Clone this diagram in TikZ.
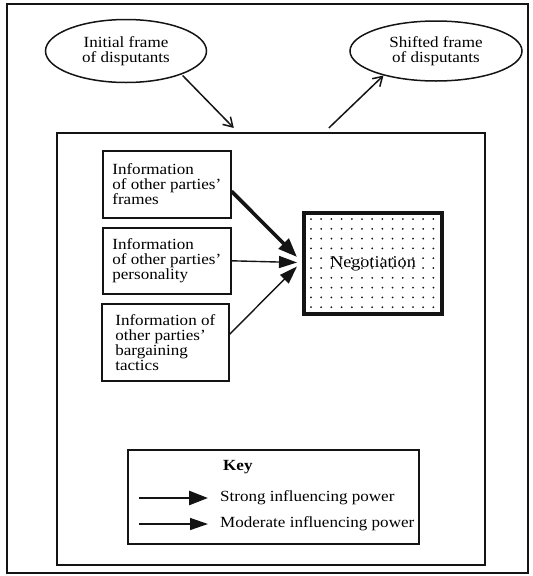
\documentclass[tikz,border=0pt]{standalone}
\usepackage{fontspec}
\setmainfont{Liberation Serif}[FakeStretch=1.1]
\usetikzlibrary{arrows.meta,positioning,shapes.geometric}
\definecolor{Ink}{HTML}{141414}
\tikzset{
  frameoval/.style={ellipse, draw=Ink, line width=1.5pt, inner sep=0pt,
    align=center, font=\fontsize{15.5}{15}\selectfont},
  infobox/.style={draw=Ink, line width=1.6pt, anchor=north west,
    minimum width=128pt, inner sep=0pt, align=left,
    font=\fontsize{15.5}{15}\selectfont},
  keytext/.style={anchor=west, inner sep=0pt, font=\fontsize{15.5}{15}\selectfont},
  strongarrow/.style={draw=Ink, line width=3.6pt, -{Triangle[length=19pt,width=14pt]}},
  moderatearrow/.style={draw=Ink, line width=1.4pt, -{Triangle[length=18pt,width=12pt]}},
  shiftarrow/.style={draw=Ink, line width=1.5pt, -{Straight Barb[length=9pt,width=11pt]}}
}

\begin{document}
\begin{tikzpicture}[x=1pt,y=-1pt]
  \useasboundingbox (0,0) rectangle (533,576);
  % page frame
  \draw[Ink, line width=1.3pt] (7,4) rectangle (528,573);

  % frames before and after
  \node[frameoval, minimum width=161pt, minimum height=63pt] (initframe) at (126,51)
    {Initial frame\\of disputants};
  \node[frameoval, minimum width=172pt, minimum height=60pt] (shiftframe) at (436,51)
    {Shifted frame\\of disputants};

  % negotiation arena
  \node[draw=Ink, line width=1.6pt, anchor=north west,
    minimum width=428pt, minimum height=432pt] (arena) at (56,132) {};

  \draw[shiftarrow] ([xshift=4pt]initframe.-25) -- ([shift={(-37pt,4pt)}]arena.north);
  \draw[shiftarrow] ([shift={(58pt,4pt)}]arena.north) -- (shiftframe.205);

  % information boxes
  \node[infobox, minimum height=67pt] (infoframes) at (102,150)
    {Information\\of other parties'\\frames};
  \node[infobox, minimum height=66pt] (infopersona) at (102,227)
    {Information\\of other parties'\\personality};
  \node[infobox, minimum width=127pt, minimum height=77pt] (infotactics) at (101,303)
    {Information of\\other parties'\\bargaining\\tactics};

  % negotiation box with dots
  \node[draw=Ink, line width=4pt, anchor=north west,
    minimum width=138pt, minimum height=101pt] (negotiation) at (302,211) {};
  \foreach \col in {0,...,12}
    \foreach \row in {0,...,9}
      \fill[Ink] (311+10.2*\col, 219+9.8*\row) circle (1pt);
  \node[font=\fontsize{16.5}{16}\selectfont] (negotiationlabel) at (negotiation.center) {Negotiation};

  \draw[strongarrow] ([yshift=-7pt]infoframes.east) -- ([shift={(-5pt,6.5pt)}]negotiation.west);
  \draw[moderatearrow] (infopersona.east) -- ([shift={(-5pt,1pt)}]negotiation.west);
  \draw[moderatearrow] ([yshift=8pt]infotactics.east) -- ([shift={(-5pt,-3pt)}]negotiation.west);

  % key
  \node[draw=Ink, line width=1.6pt, anchor=north west,
    minimum width=291pt, minimum height=94pt] (keybox) at (127,449) {};
  \node[keytext] (keytitle) at (223,467) {\textbf{Key}};
  \node[keytext] (stronglabel) at (220,498) {Strong influencing power};
  \node[keytext] (moderatelabel) at (220,524) {Moderate influencing power};
  \coordinate (strongtail) at (139,498);
  \coordinate (moderatetail) at (139,524);
  \draw[strongarrow, line width=2.7pt] (strongtail) -- ([xshift=-12pt]stronglabel.west);
  \draw[moderatearrow] (moderatetail) -- ([xshift=-12pt]moderatelabel.west);
\end{tikzpicture}
\end{document}
